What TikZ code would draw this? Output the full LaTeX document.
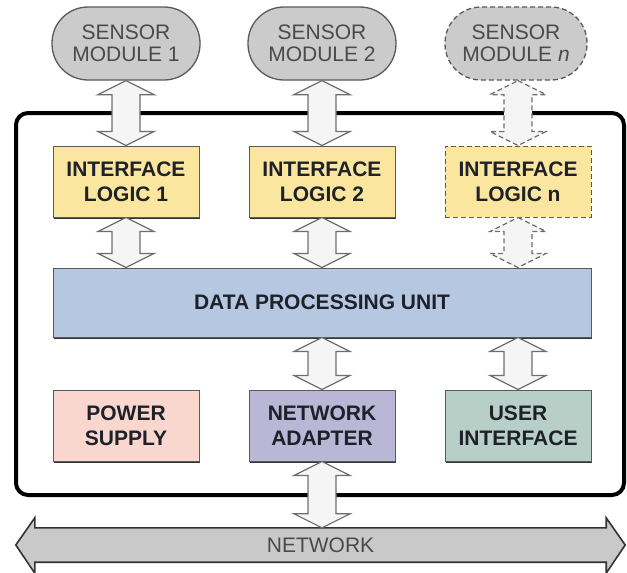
\documentclass[tikz,border=0pt]{standalone}
\usepackage{fontspec}
\setmainfont{Liberation Sans}
\usetikzlibrary{shadows,calc}

\definecolor{ilfill}{HTML}{FBE6A0}
\definecolor{dpufill}{HTML}{B6C8E1}
\definecolor{psfill}{HTML}{F9D6CE}
\definecolor{nafill}{HTML}{B9B6D6}
\definecolor{uifill}{HTML}{B7CFC6}
\definecolor{smfill}{HTML}{CBCBCB}
\definecolor{netfill}{HTML}{C9C9C9}
\definecolor{boxline}{HTML}{5A5A5A}
\definecolor{arline}{HTML}{6E6E6E}
\definecolor{smtext}{HTML}{4A4A4A}
\definecolor{blktext}{HTML}{1E2128}

\pgfdeclarelayer{bg}
\pgfsetlayers{bg,main}

\tikzset{
  blkbase/.style={draw=boxline, line width=1pt, minimum width=146pt, minimum height=71pt,
    align=center, font=\fontsize{21}{25}\selectfont\bfseries, text=blktext, inner sep=0pt},
  blk/.style={blkbase, drop shadow={shadow xshift=0.6pt, shadow yshift=-1.6pt, fill=black!80, opacity=1}},
  sensor/.style={draw=boxline, line width=1.3pt, fill=smfill, rounded corners=36pt,
    minimum width=148pt, minimum height=73pt, align=center,
    font=\fontsize{21}{22}\selectfont, text=smtext, inner sep=0pt},
  dbl/.style={draw=arline, line width=1.2pt, fill=white!96!black, line join=miter},
  ghost/.style={dash pattern=on 5pt off 3pt},
  container/.style={draw=black, line width=4pt, rounded corners=12pt,
    minimum width=608pt, minimum height=382pt, inner sep=0pt},
  netarrow/.style={draw=black!80, line width=1.6pt, fill=netfill, line join=miter},
  nettext/.style={minimum width=571pt, minimum height=34pt, inner sep=0pt,
    font=\fontsize{21}{24}\selectfont, text=smtext},
}

\newcommand\bidir[3][]{%
  \path[dbl,#1] let \p1=#2, \p2=#3 in
    (\x1,\y1) -- ({\x1+28pt},{\y1-14pt}) -- ({\x1+14pt},{\y1-14pt})
    -- ({\x1+14pt},{\y2+14pt}) -- ({\x1+28pt},{\y2+14pt}) -- (\x1,\y2)
    -- ({\x1-28pt},{\y2+14pt}) -- ({\x1-14pt},{\y2+14pt})
    -- ({\x1-14pt},{\y1-14pt}) -- ({\x1-28pt},{\y1-14pt}) -- cycle;}

\begin{document}
\begin{tikzpicture}[x=1pt,y=1pt]
\useasboundingbox (0,0) rectangle (627,-573);

% container
\node[container] (main) at (320,-304) {};

% sensor modules
\node[sensor] (s1) at (126,-43.5) {SENSOR\\MODULE 1};
\node[sensor] (s2) at (322,-43.5) {SENSOR\\MODULE 2};
\node[sensor, ghost, minimum width=142pt] (s3) at (516,-43.5) {SENSOR\\MODULE \textit{n}};

% interface logic
\node[blk, fill=ilfill] (il1) at (126,-181.5) {INTERFACE\\LOGIC 1};
\node[blk, fill=ilfill] (il2) at (322,-181.5) {INTERFACE\\LOGIC 2};
\node[blkbase, ghost, fill=ilfill] (il3) at (518,-181.5) {INTERFACE\\LOGIC n};

% data processing unit
\node[blk, fill=dpufill, minimum width=538pt, minimum height=69pt] (dpu) at (322,-302.5) {DATA PROCESSING UNIT};

% bottom blocks
\node[blk, fill=psfill] (ps) at (126,-425.5) {POWER\\SUPPLY};
\node[blk, fill=nafill] (na) at (322,-425.5) {NETWORK\\ADAPTER};
\node[blk, fill=uifill] (ui) at (518,-425.5) {USER\\INTERFACE};

% network
\node[nettext] (net) at (320.5,-545) {NETWORK};
\begin{pgfonlayer}{bg}
\path[netarrow] (net.north west) -- ++(0,10) -- ([xshift=-19pt]net.west)
  -- ([yshift=-11pt]net.south west) -- (net.south west) -- (net.south east)
  -- ([yshift=-11pt]net.south east) -- ([xshift=19pt]net.east)
  -- ([yshift=10pt]net.north east) -- (net.north east) -- cycle;
\end{pgfonlayer}

% connectors
\bidir{(s1.south)}{(il1.north)}
\bidir{(s2.south)}{(il2.north)}
\bidir[ghost]{(il3.north |- s3.south)}{(il3.north)}
\bidir{(il1.south)}{(il1.south |- dpu.north)}
\bidir{(il2.south)}{(il2.south |- dpu.north)}
\bidir[ghost]{(il3.south)}{(il3.south |- dpu.north)}
\bidir{(na.north |- dpu.south)}{(na.north)}
\bidir{(ui.north |- dpu.south)}{(ui.north)}
\bidir{(na.south)}{(na.south |- net.north)}
\end{tikzpicture}
\end{document}
